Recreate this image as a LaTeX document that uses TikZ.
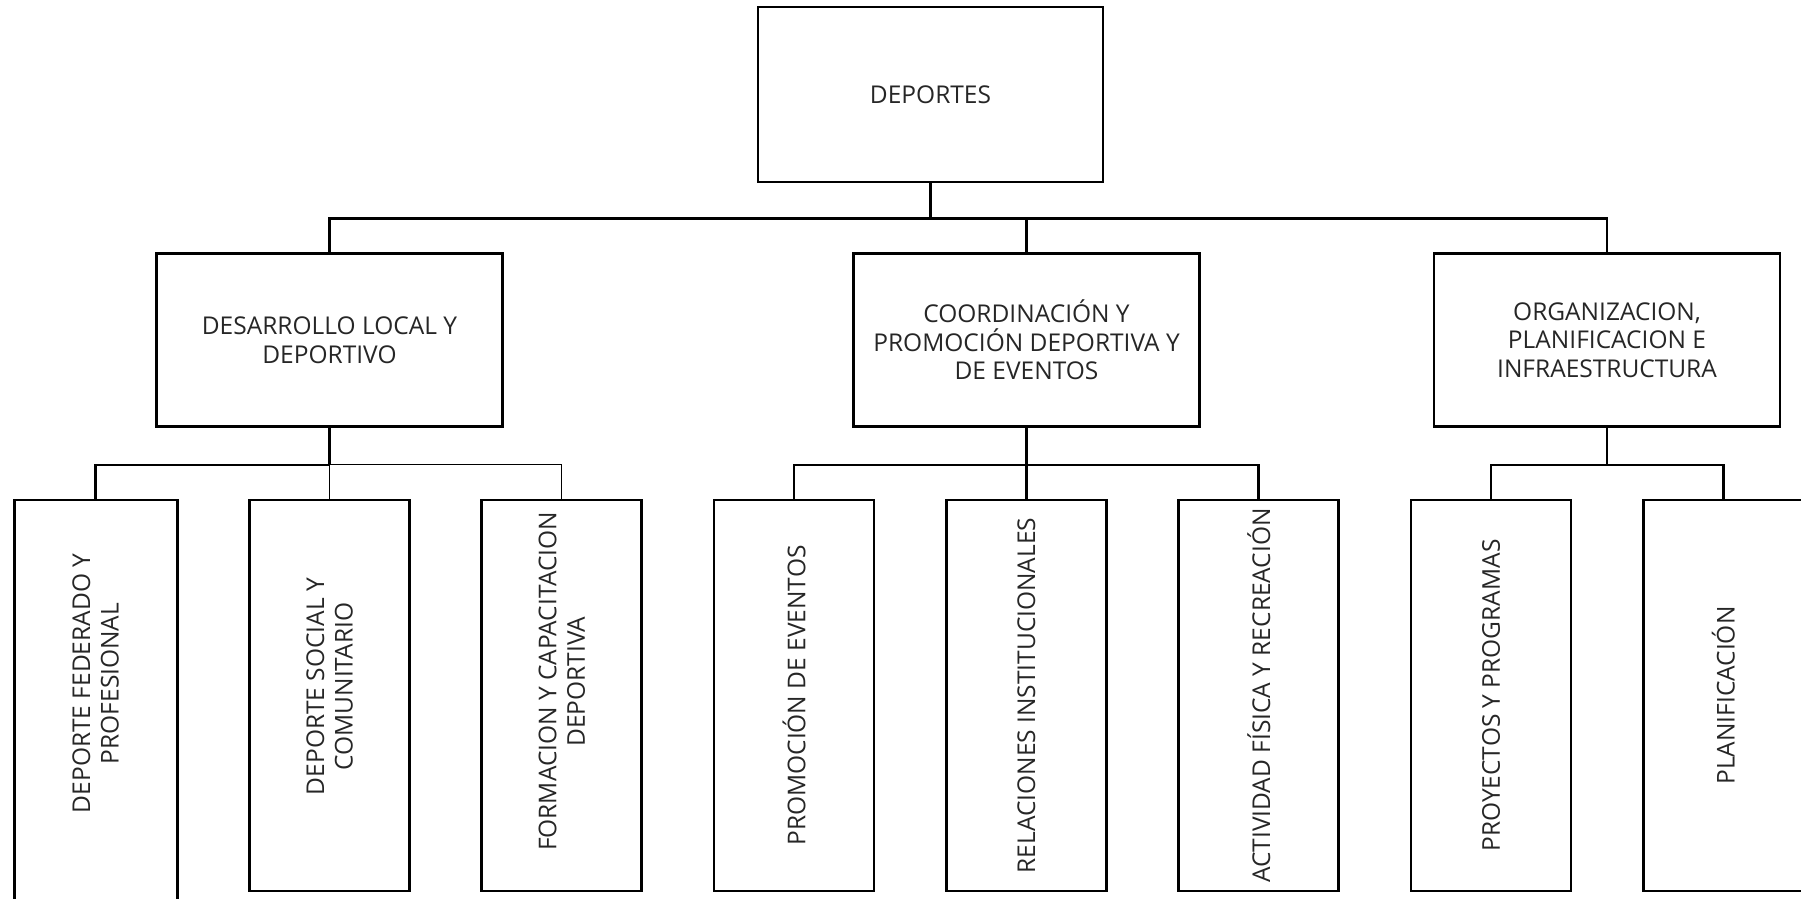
\documentclass[tikz,border=0pt]{standalone}
\usepackage{fontspec}
\setmainfont{Open Sans}
\usepackage{tikz}
\usetikzlibrary{positioning}

\begin{document}
\begin{tikzpicture}[
  x=1pt, y=-1pt,
  node distance=69.6pt,
  every node/.style={font=\fontsize{24.5}{28.5}\selectfont, text=black!85},
  unit/.style={rectangle, draw, line width=2.7pt, minimum width=346pt,
               minimum height=173pt, align=center, inner sep=0pt},
  leaf/.style={rectangle, draw, line width=2.7pt, minimum width=160pt,
               minimum height=391pt, inner sep=0pt},
  vlabel/.style={rotate=90, align=center, inner sep=0pt},
  link/.style={line width=2.7pt},
  thinlink/.style={line width=1.2pt},
]
\clip[use as bounding box] (0,0) rectangle (1801,899);
% top
\node[unit, minimum width=345pt, minimum height=175pt] (root) at (930.5,94.5) {DEPORTES};
% second level
\node[unit] (coord) at (1026.5,340) {COORDINACIÓN Y\\PROMOCIÓN DEPORTIVA Y\\DE EVENTOS};
\node[unit, left=348.3pt of coord]  (desa) {DESARROLLO LOCAL Y\\DEPORTIVO};
\node[unit, right=231.8pt of coord] (orga) {ORGANIZACION,\\PLANIFICACION E\\INFRAESTRUCTURA};
% third level
\node[leaf] (soc) at (329.5,695.5) {};
\node[leaf, minimum width=163pt, minimum height=430pt, left=of soc, yshift=-19.5pt] (fed) {};
\node[leaf, right=of soc]  (form) {};
\node[leaf, right=of form] (prom) {};
\node[leaf, right=of prom] (rel)  {};
\node[leaf, right=of rel]  (act)  {};
\node[leaf, right=of act]  (proy) {};
\node[leaf, right=of proy] (plan) {};
\node[vlabel, xshift=12pt] (fedT) at (fed |- soc) {DEPORTE FEDERADO Y\\PROFESIONAL};
\node[vlabel, xshift=9pt] (socT)  at (soc)  {DEPORTE SOCIAL Y\\COMUNITARIO};
\node[vlabel, xshift=14pt] (formT) at (form) {FORMACION Y CAPACITACION\\DEPORTIVA};
\node[vlabel] (promT) at (prom) {PROMOCIÓN DE EVENTOS};
\node[vlabel] (relT)  at (rel)  {RELACIONES INSTITUCIONALES};
\node[vlabel] (actT)  at (act)  {ACTIVIDAD FÍSICA Y RECREACIÓN};
\node[vlabel] (proyT) at (proy) {PROYECTOS Y PROGRAMAS};
\node[vlabel] (planT) at (plan) {PLANIFICACIÓN};
% connectors
\draw[link] (root.south) -- ++(0,35) coordinate (rootbus);
\draw[link] (desa.north) |- (rootbus) -| (orga.north);
\draw[link] (coord.north) -- (coord.north |- rootbus);
\draw[link] (desa.south) -- ++(0,37) coordinate (desabus);
\draw[link] (fed.north) |- (desabus);
\draw[thinlink] (desabus) -| (form.north);
\draw[thinlink] (soc.north) -- (soc.north |- desabus);
\draw[link] (coord.south) -- ++(0,37) coordinate (coordbus);
\draw[link] (prom.north) |- (coordbus) -| (act.north);
\draw[link] (rel.north) -- (rel.north |- coordbus);
\draw[link] (orga.south) -- ++(0,37) coordinate (orgabus);
\draw[link] (proy.north) |- (orgabus) -| (plan.north);
\end{tikzpicture}
\end{document}
